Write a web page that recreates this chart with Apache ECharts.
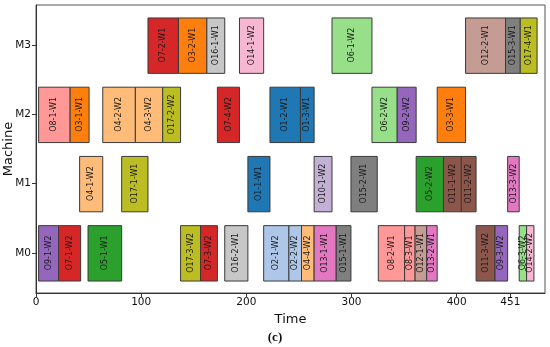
<!DOCTYPE html>
<html><head><meta charset="utf-8">
<script src="https://cdn.jsdelivr.net/npm/echarts@6/dist/echarts.min.js"></script>
<style>html,body{margin:0;padding:0;background:#fff}#c{width:550px;height:347px}</style>
</head><body><div id="c"></div>
<script>
var machines = ['M0', 'M1', 'M2', 'M3'];
var xTicks = [0, 100, 200, 300, 400, 451];
// task labels, machine index, start, end
var taskLabels = [
  'O7-2-W1','O3-2-W1','O16-1-W1','O14-1-W2','O6-1-W2','O12-2-W1','O15-3-W1','O17-4-W1',
  'O8-1-W1','O3-1-W1','O4-2-W2','O4-3-W2','O17-2-W2','O7-4-W2','O1-2-W1','O1-3-W1','O6-2-W2','O9-2-W2','O3-3-W1',
  'O4-1-W2','O17-1-W1','O1-1-W1','O10-1-W2','O15-2-W1','O5-2-W2','O11-1-W2','O11-2-W2','O13-3-W2',
  'O9-1-W2','O7-1-W2','O5-1-W1','O17-3-W2','O7-3-W2','O16-2-W1','O2-1-W2','O2-2-W2','O4-4-W2','O13-1-W1','O15-1-W1',
  'O8-2-W1','O8-3-W1','O12-1-W1','O13-2-W1','O11-3-W2','O9-3-W2','O6-3-W2','O14-2-W2'
];
var taskMachine = [
  3,3,3,3,3,3,3,3,
  2,2,2,2,2,2,2,2,2,2,2,
  1,1,1,1,1,1,1,1,1,
  0,0,0,0,0,0,0,0,0,0,0,
  0,0,0,0,0,0,0,0
];
var taskStart = [
  106,135,162,193,281,408,446,460,
  2,32,63,94,120,172,222,251,319,343,381,
  41,81,201,264,299,361,387,404,448,
  2,21,49,137,156,179,216,240,252,264,285,
  325,350,360,371,418,436,459,466
];
var taskEnd = [
  135,162,179,216,319,446,460,476,
  32,50,94,120,137,193,251,264,343,361,408,
  63,106,222,281,324,387,404,418,459,
  21,42,81,156,172,201,240,252,264,285,299,
  350,360,371,381,436,448,466,473
];
var jobColors = ['#1f77b4','#aec7e8','#ff7f0e','#ffbb78','#2ca02c','#98df8a','#d62728','#ff9896',
  '#9467bd','#c5b0d5','#8c564b','#c49c94','#e377c2','#f7b6d2','#7f7f7f','#c7c7c7','#bcbd22'];

var data = taskLabels.map(function (l, i) {
  return [taskMachine[i], taskStart[i], taskEnd[i], i];
});

function renderItem(params, api) {
  var m = api.value(0), s = api.value(1), e = api.value(2), idx = api.value(3);
  var p0 = api.coord([s, m + 0.4]);
  var p1 = api.coord([e, m - 0.4]);
  var label = taskLabels[idx];
  var job = parseInt(label.split('-')[0].slice(1), 10);
  var w = p1[0] - p0[0], h = p1[1] - p0[1];
  return {
    type: 'group',
    children: [
      { type: 'rect', shape: { x: p0[0] + 0.5, y: p0[1] + 0.5, width: w, height: h },
        style: { fill: jobColors[job - 1], stroke: '#3a3a3a', lineWidth: 1 } },
      { type: 'text', x: p0[0] + w / 2 + 0.5, y: p0[1] + h / 2, rotation: Math.PI / 2,
        style: { text: label, x: 0, y: 0, align: 'center', verticalAlign: 'middle',
          fontSize: 8, fontFamily: 'DejaVu Sans', fill: '#1a1a1a' } }
    ]
  };
}

var chart = echarts.init(document.getElementById('c'));
chart.setOption({
  animation: false,
  grid: { left: 36, right: 5, top: 5, bottom: 54, show: true, borderColor: '#555', borderWidth: 1,
    containLabel: false, outerBoundsMode: 'none' },
  xAxis: {
    type: 'value', min: 0, max: 484,
    name: 'Time', nameLocation: 'middle', nameGap: 18,
    nameTextStyle: { fontSize: 13, fontFamily: 'DejaVu Sans', color: '#111' },
    axisLine: { show: true, onZero: false, lineStyle: { color: '#333' } },
    axisTick: { show: true, customValues: xTicks, length: 4, lineStyle: { color: '#333' } },
    axisLabel: { customValues: xTicks, fontSize: 10.5, fontFamily: 'DejaVu Sans', color: '#111', margin: 4 },
    splitLine: { show: false }
  },
  yAxis: {
    type: 'value', min: -0.58, max: 3.58,
    axisLine: { show: true, onZero: false, lineStyle: { color: '#333' } },
    axisTick: { show: true, customValues: [0, 1, 2, 3], length: 4, lineStyle: { color: '#333' } },
    axisLabel: { customValues: [0, 1, 2, 3], fontSize: 10.5, fontFamily: 'DejaVu Sans', color: '#111', margin: 5,
      formatter: function (v) { return machines[Math.round(v)]; } },
    splitLine: { show: false }
  },
  graphic: [{
    type: 'text', x: 9, y: 149, rotation: Math.PI / 2,
    style: { text: 'Machine', x: 0, y: 0, align: 'center', verticalAlign: 'middle',
      fontSize: 13, fontFamily: 'DejaVu Sans', fill: '#111' }
  }, {
    type: 'text', left: 'center', top: 331,
    style: { text: '(c)', fontSize: 13, fontWeight: 'bold', fontFamily: 'Liberation Serif', fill: '#111' }
  }],
  series: [{
    type: 'custom', renderItem: renderItem, data: data,
    encode: { x: [1, 2], y: 0 }, clip: false
  }]
});
</script></body></html>
